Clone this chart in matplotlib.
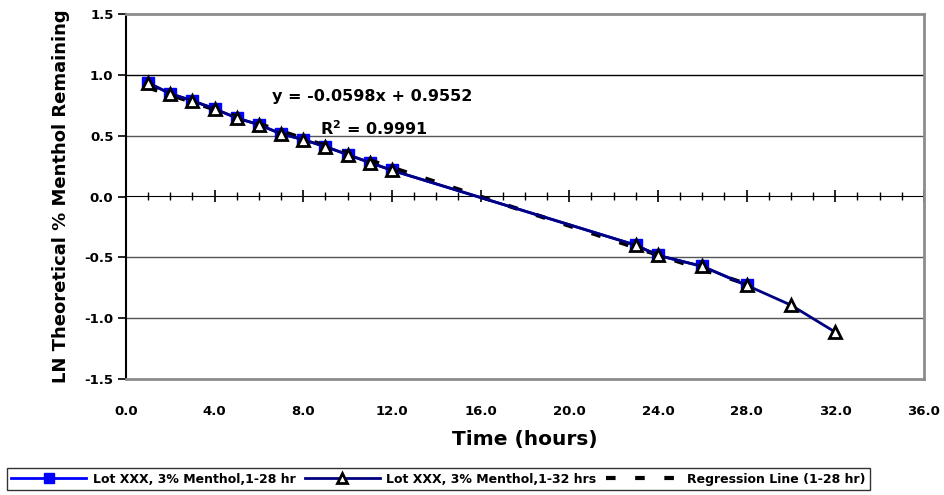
import matplotlib.pyplot as plt

plt.rcParams['font.family'] = ['DejaVu Sans']
plt.rcParams['font.weight'] = 'bold'

# Time points (hours) and LN theoretical % menthol remaining
hours_28 = [1, 2, 3, 4, 5, 6, 7, 8, 9, 10, 11, 12, 23, 24, 26, 28]
ln_28 = [0.934, 0.845, 0.787, 0.72, 0.645, 0.59, 0.515, 0.467, 0.41, 0.344,
         0.279, 0.215, -0.40, -0.484, -0.574, -0.73]

hours_32 = [1, 2, 3, 4, 5, 6, 7, 8, 9, 10, 11, 12, 23, 24, 26, 28, 30, 32]
ln_32 = [0.934, 0.845, 0.787, 0.72, 0.645, 0.59, 0.515, 0.467, 0.41, 0.344,
         0.279, 0.215, -0.40, -0.484, -0.574, -0.73, -0.893, -1.115]

slope = -0.0598
intercept = 0.9552
r_squared = 0.9991
reg_x = [1, 28]
reg_y = [slope * x + intercept for x in reg_x]

fig = plt.figure(figsize=(9.45, 4.95), dpi=100)
ax = fig.add_axes([126 / 945, 1 - 379 / 495, (924 - 126) / 945, (379 - 14) / 495])

ax.plot(hours_28, ln_28, color='#0000FF', lw=2, marker='s', ms=9,
        mfc='#0000FF', mec='#0000FF', label='Lot XXX, 3% Menthol,1-28 hr', zorder=3)
ax.plot(reg_x, reg_y, color='black', lw=3, dashes=(2.3, 4.7),
        label='Regression Line (1-28 hr)', zorder=4)
ax.plot(hours_32, ln_32, color='#000080', lw=2, marker='^', ms=9,
        mfc='white', mec='black', mew=2, label='Lot XXX, 3% Menthol,1-32 hrs', zorder=5)

ax.set_xlim(0, 36)
ax.set_ylim(-1.5, 1.5)
ax.set_xticks(range(0, 37, 4))
ax.set_xticklabels([f'{v:.1f}' for v in range(0, 37, 4)])
ax.set_yticks([-1.5, -1.0, -0.5, 0.0, 0.5, 1.0, 1.5])
ax.set_yticklabels([f'{v:.1f}' for v in [-1.5, -1.0, -0.5, 0.0, 0.5, 1.0, 1.5]])
ax.tick_params(axis='x', length=0, pad=19, labelsize=9.5)
ax.tick_params(axis='y', length=6, width=1.2, direction='out', labelsize=9.5, pad=3)

for v in [-1.0, -0.5, 0.5, 1.0]:
    ax.axhline(v, color='#000000' if v == 1.0 else '#555555', lw=1, zorder=1)

for side in ['top', 'right', 'bottom']:
    ax.spines[side].set_color('#8c8c8c')
    ax.spines[side].set_linewidth(2)
ax.spines['left'].set_color('black')
ax.spines['left'].set_linewidth(1.5)

# zero line with crossing ticks
zero = ax.secondary_xaxis(0.5)
zero.set_xticks(range(0, 37, 4))
zero.set_xticks(range(0, 37), minor=True)
zero.tick_params(which='major', direction='inout', length=9, width=1.2, labelbottom=False, labeltop=False)
zero.tick_params(which='minor', direction='inout', length=6, width=1, labelbottom=False, labeltop=False)
zero.spines['bottom'].set_linewidth(1.2)
zero.spines['bottom'].set_color('black')

ax.text(6.59, 0.82, f'y = {slope}x + {intercept}', fontsize=11.5, fontweight='bold', va='center')
ax.text(8.75, 0.557, f'R$^2$ = {r_squared}', fontsize=11.5, fontweight='bold', va='center')

ax.set_ylabel('LN Theoretical % Menthol Remaining', fontsize=13, fontweight='bold', labelpad=10)
ax.set_xlabel('Time (hours)', fontsize=14.5, fontweight='bold', labelpad=8)

handles, labels = ax.get_legend_handles_labels()
order = [0, 2, 1]
leg = fig.legend([handles[i] for i in order], [labels[i] for i in order],
                 loc='lower left', bbox_to_anchor=(7 / 945, 5 / 495), ncol=3,
                 fontsize=9, frameon=True, fancybox=False, edgecolor='black',
                 handlelength=6.0, handletextpad=0.5, columnspacing=0.75,
                 borderaxespad=0, borderpad=0.35, markerscale=0.8)
leg.get_frame().set_linewidth(1)

fig.savefig('out.png', dpi=100)
